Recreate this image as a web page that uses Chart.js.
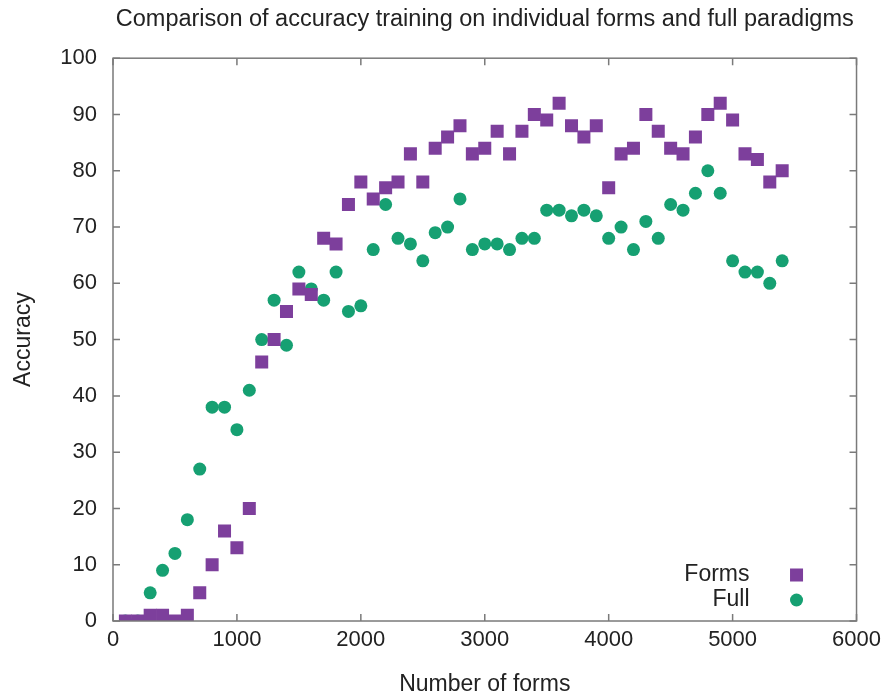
<!DOCTYPE html>
<html lang="en">
<head>
    <meta charset="UTF-8">
    <title>Accuracy comparison</title>
    <script src="https://cdn.jsdelivr.net/npm/chart.js"></script>
    <style>
        body { margin: 0; background: #fff; }
        #chartBox { width: 887px; height: 693px; }
    </style>
</head>
<body>

    <div id="chartBox">
        <canvas id="myChart" width="887" height="693"></canvas>
    </div>

    <script>
        // Dados
        const formCounts = [100, 200, 300, 400, 500, 600, 700, 800, 900, 1000,
            1100, 1200, 1300, 1400, 1500, 1600, 1700, 1800, 1900, 2000,
            2100, 2200, 2300, 2400, 2500, 2600, 2700, 2800, 2900, 3000,
            3100, 3200, 3300, 3400, 3500, 3600, 3700, 3800, 3900, 4000,
            4100, 4200, 4300, 4400, 4500, 4600, 4700, 4800, 4900, 5000,
            5100, 5200, 5300, 5400];
        const formsAccuracy = [0, 0, 1, 1, 0, 1, 5, 10, 16, 13,
            20, 46, 50, 55, 59, 58, 68, 67, 74, 78,
            75, 77, 78, 83, 78, 84, 86, 88, 83, 84,
            87, 83, 87, 90, 89, 92, 88, 86, 88, 77,
            83, 84, 90, 87, 84, 83, 86, 90, 92, 89,
            83, 82, 78, 80];
        const fullAccuracy = [0, 0, 5, 9, 12, 18, 27, 38, 38, 34,
            41, 50, 57, 49, 62, 59, 57, 62, 55, 56,
            66, 74, 68, 67, 64, 69, 70, 75, 66, 67,
            67, 66, 68, 68, 73, 73, 72, 73, 72, 68,
            70, 66, 71, 68, 74, 73, 76, 80, 76, 64,
            62, 62, 60, 64];
        const xTicks = [0, 1000, 2000, 3000, 4000, 5000, 6000];
        const yTicks = [0, 10, 20, 30, 40, 50, 60, 70, 80, 90, 100];

        const purple = '#7d3f9c';
        const green = '#16a072';
        const fontFamily = '"Liberation Sans", Arial, sans-serif';

        function toPoints(values) {
            return formCounts.map((x, i) => ({ x: x, y: values[i] }));
        }

        // Moldura e marcas internas no estilo gnuplot
        const frameTicks = {
            id: 'frameTicks',
            beforeDraw(chart) {
                const c = chart.ctx;
                c.save();
                c.fillStyle = '#fff';
                c.fillRect(0, 0, chart.width, chart.height);
                c.restore();
            },
            afterDatasetsDraw(chart) {
                const c = chart.ctx;
                const a = chart.chartArea;
                const xs = chart.scales.x, ys = chart.scales.y;
                const len = 7;
                c.save();
                c.strokeStyle = '#7a7a7a';
                c.lineWidth = 1.5;
                c.strokeRect(a.left, a.top, a.right - a.left, a.bottom - a.top);
                c.beginPath();
                xTicks.forEach(v => {
                    const px = xs.getPixelForValue(v);
                    c.moveTo(px, a.bottom); c.lineTo(px, a.bottom - len);
                    c.moveTo(px, a.top); c.lineTo(px, a.top + len);
                });
                yTicks.forEach(v => {
                    const py = ys.getPixelForValue(v);
                    c.moveTo(a.left, py); c.lineTo(a.left + len, py);
                    c.moveTo(a.right, py); c.lineTo(a.right - len, py);
                });
                c.stroke();

                // Legenda: texto à esquerda, marcador à direita
                c.font = '23px ' + fontFamily;
                c.fillStyle = '#222';
                c.textAlign = 'right';
                c.textBaseline = 'middle';
                const textX = a.right - 107, markX = a.right - 60;
                const y1 = a.bottom - 46, y2 = a.bottom - 21;
                c.fillText('Forms', textX, y1);
                c.fillText('Full', textX, y2);
                c.fillStyle = purple;
                c.fillRect(markX - 6.5, y1 - 6.5, 13, 13);
                c.fillStyle = green;
                c.beginPath();
                c.arc(markX, y2, 6.5, 0, Math.PI * 2);
                c.fill();
                c.restore();
            }
        };

        const ctx = document.getElementById('myChart').getContext('2d');
        const myChart = new Chart(ctx, {
            type: 'scatter',
            data: {
                datasets: [{
                    label: 'Forms',
                    data: toPoints(formsAccuracy),
                    pointStyle: 'rect',
                    pointRadius: 9.2,
                    backgroundColor: purple,
                    borderWidth: 0
                }, {
                    label: 'Full',
                    data: toPoints(fullAccuracy),
                    pointStyle: 'circle',
                    pointRadius: 6.5,
                    backgroundColor: green,
                    borderWidth: 0
                }]
            },
            options: {
                responsive: false,
                animation: false,
                layout: { padding: { left: 0, right: 25, top: 0, bottom: 0 } },
                plugins: {
                    legend: { display: false },
                    tooltip: { enabled: false },
                    title: {
                        display: true,
                        fullSize: false, // centraliza sobre a área do gráfico
                        text: 'Comparison of accuracy training on individual forms and full paradigms',
                        color: '#222',
                        font: { family: fontFamily, size: 23.5, weight: 'normal' },
                        padding: { top: 5, bottom: 25 }
                    }
                },
                scales: {
                    x: {
                        type: 'linear',
                        min: 0,
                        max: 6000,
                        afterBuildTicks(scale) {
                            scale.ticks = xTicks.map(v => ({ value: v }));
                        },
                        afterFit(scale) { scale.height = 72; },
                        grid: { display: false, drawTicks: false },
                        border: { display: false },
                        ticks: {
                            color: '#222',
                            padding: 6,
                            maxRotation: 0,
                            font: { family: fontFamily, size: 22 },
                            callback: v => String(v)
                        },
                        title: {
                            display: true,
                            text: 'Number of forms',
                            color: '#222',
                            font: { family: fontFamily, size: 23 },
                            padding: { top: 0, bottom: -5 }
                        }
                    },
                    y: {
                        min: 0,
                        max: 100,
                        afterBuildTicks(scale) {
                            scale.ticks = yTicks.map(v => ({ value: v }));
                        },
                        afterFit(scale) { scale.width = 113; },
                        grid: { display: false, drawTicks: false },
                        border: { display: false },
                        ticks: {
                            color: '#222',
                            padding: 16,
                            font: { family: fontFamily, size: 22 }
                        },
                        title: {
                            display: true,
                            text: 'Accuracy',
                            color: '#222',
                            font: { family: fontFamily, size: 23 },
                            padding: { top: 10, bottom: 0 }
                        }
                    }
                }
            },
            plugins: [frameTicks]
        });
    </script>

</body>
</html>
